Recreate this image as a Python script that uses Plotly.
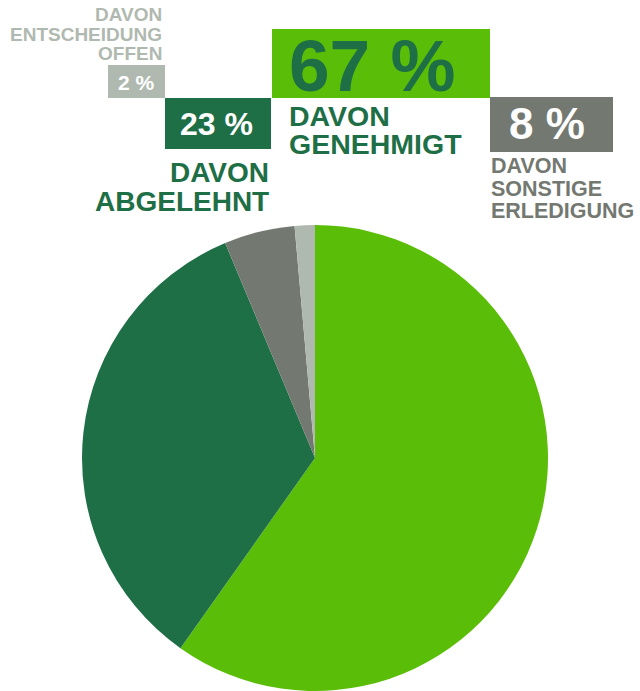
import plotly.graph_objects as go

W, H = 640, 691

# Pie slice values as drawn (clockwise from 12 o'clock)
categories = ["genehmigt", "abgelehnt", "sonstige Erledigung", "Entscheidung offen"]
slice_values = [59.8, 33.9, 4.9, 1.4]
slice_colors = ["#5ABE08", "#1E6E46", "#737871", "#B0B9B0"]

# Label texts
pct_labels = ["67 %", "23 %", "8 %", "2 %"]
desc_labels = [["DAVON", "GENEHMIGT"], ["DAVON", "ABGELEHNT"],
               ["DAVON", "SONSTIGE", "ERLEDIGUNG"], ["DAVON", "ENTSCHEIDUNG", "OFFEN"]]

FONT = "Liberation Sans"


def px(x):
    return x / W


def py(y):
    return 1 - y / H


fig = go.Figure()
fig.add_trace(go.Pie(
    labels=categories, values=slice_values, sort=False, direction="clockwise",
    rotation=0, marker=dict(colors=slice_colors, line=dict(width=0)),
    textinfo="none", hoverinfo="skip", showlegend=False,
    domain=dict(x=[px(82), px(548)], y=[0, py(225)]),
))

shapes = []
annotations = []


def box(x0, y0, x1, y1, color):
    shapes.append(dict(type="rect", xref="paper", yref="paper",
                       x0=px(x0), x1=px(x1), y0=py(y1), y1=py(y0),
                       fillcolor=color, line=dict(width=0), layer="above"))


def text(t, x, y, size, color, xanchor="center"):
    annotations.append(dict(text=t, xref="paper", yref="paper", x=px(x), y=py(y),
                            xanchor=xanchor, yanchor="middle", showarrow=False,
                            font=dict(family=FONT, size=size, color=color, weight=700)))


# genehmigt
box(272, 29, 490, 98, slice_colors[0])
text(pct_labels[0], 372, 65, 73, slice_colors[1])
for i, line in enumerate(desc_labels[0]):
    text(line, 287, 115.5 + i * 28.5, 28.5, slice_colors[1], "left")

# abgelehnt
box(165, 98, 271, 149, slice_colors[1])
text(pct_labels[1], 216, 123.5, 32, "white")
for i, line in enumerate(desc_labels[1]):
    text(line, 271, 172.5 + i * 29, 28, slice_colors[1], "right")

# sonstige
box(490, 97, 613, 152, slice_colors[2])
text(pct_labels[2], 547, 123, 44, "white")
for i, (line, yy) in enumerate(zip(desc_labels[2], [165.5, 189, 210.5])):
    text(line, 489, yy, 21.5, slice_colors[2], "left")

# offen
box(108, 65, 165, 98, slice_colors[3])
text(pct_labels[3], 136.5, 82.5, 21, "white")
for i, (line, yy) in enumerate(zip(desc_labels[3], [14.5, 34.5, 53.5])):
    text(line, 164, yy, 19, slice_colors[3], "right")

fig.update_layout(
    width=W, height=H, margin=dict(l=0, r=0, t=0, b=0),
    paper_bgcolor="white", plot_bgcolor="white",
    shapes=shapes, annotations=annotations, showlegend=False,
)

fig.write_html("out.html", config={"displayModeBar": False},
               post_script="document.body.style.margin='0px';document.body.style.overflow='hidden';")
